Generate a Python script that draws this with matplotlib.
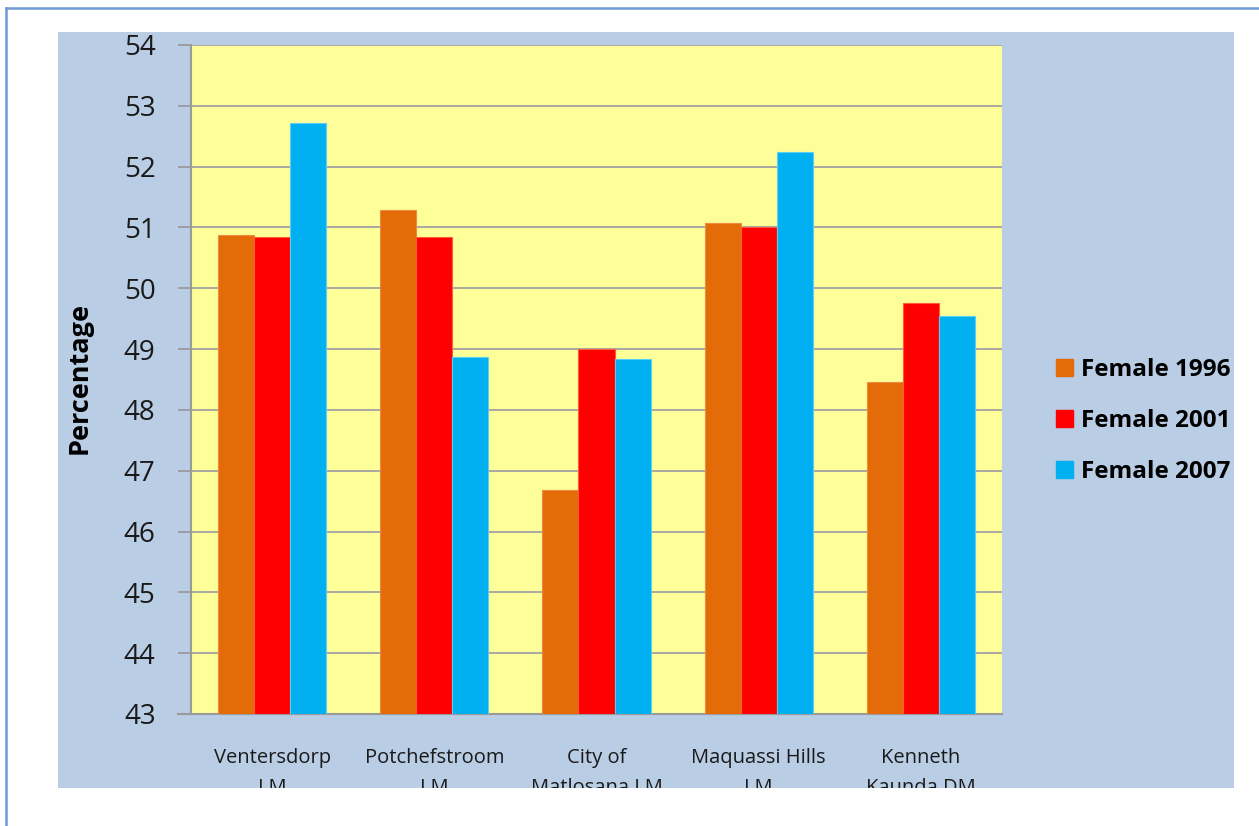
import matplotlib
matplotlib.use("Agg")
import matplotlib.pyplot as plt
from matplotlib.patches import Rectangle, Patch
from matplotlib.lines import Line2D
import numpy as np

# Share of the population that is female, by municipality and census year
categories = ["Ventersdorp\nLM", "Potchefstroom\nLM", "City of\nMatlosana LM",
              "Maquassi Hills\nLM", "Kenneth\nKaunda DM"]
series_names = ["Female 1996", "Female 2001", "Female 2007"]
female_1996 = [50.88, 51.29, 46.68, 51.07, 48.46]
female_2001 = [50.84, 50.84, 49.00, 51.01, 49.76]
female_2007 = [52.71, 48.87, 48.84, 52.24, 49.54]
y_ticks = list(range(43, 55))
y_label = "Percentage"

series = [female_1996, female_2001, female_2007]
fill_colors = ["#e36c09", "#ff0000", "#00b0f0"]
edge_colors = ["#f08a3c", "#ff5a3c", "#5ccff5"]

W, H = 1259, 826
fig = plt.figure(figsize=(W / 100, H / 100), dpi=100)
fig.patch.set_facecolor("white")

def fx(px):
    return px / W

def fy(py):
    return 1 - py / H

# light blue chart panel
panel = Rectangle((fx(58), fy(788)), fx(1234) - fx(58), fy(32) - fy(788),
                  transform=fig.transFigure, facecolor="#b9cde5",
                  edgecolor="none", zorder=-5)
fig.patches.append(panel)

# outer frame lines (top and left)
border_kw = dict(color="#6f9ad6", lw=1.8, transform=fig.transFigure, zorder=5)
fig.lines.append(Line2D([fx(6), 1.0], [fy(8), fy(8)], **border_kw))
fig.lines.append(Line2D([fx(6), fx(6)], [fy(8), 0.0], **border_kw))

ax_l, ax_r, ax_t, ax_b = 191, 1002, 45, 714
ax = fig.add_axes([fx(ax_l), fy(ax_b), fx(ax_r) - fx(ax_l), fy(ax_t) - fy(ax_b)])
ax.set_facecolor("#ffff99")

x = np.arange(len(categories))
bw = 0.222
for i, (vals, fc, ec, name) in enumerate(zip(series, fill_colors, edge_colors, series_names)):
    ax.bar(x + (i - 1) * bw, vals, width=bw, color=fc, edgecolor=ec,
           linewidth=0.8, label=name, zorder=3)

ax.set_ylim(43, 54)
ax.set_xlim(-0.5, len(categories) - 0.5)
ax.set_yticks(y_ticks)
ax.set_xticks(x)

tick_font = "Open Sans"
ax.set_yticklabels([str(t) for t in y_ticks], fontsize=20, family=tick_font,
                   color="#1a1a1a")
ax.set_xticklabels(categories, fontsize=14.5, family=tick_font, color="#1a1a1a",
                   linespacing=1.66)

ax.yaxis.grid(True, color="#a3a3a3", linewidth=1.3, zorder=1)
ax.set_axisbelow(True)
for side in ("top", "right"):
    ax.spines[side].set_visible(False)
for side in ("left", "bottom"):
    ax.spines[side].set_color("#9a9a9a")
    ax.spines[side].set_linewidth(1.5)

ax.tick_params(axis="y", length=9.5, width=1.3, color="#9a9a9a", pad=16)
ax.tick_params(axis="x", length=0, pad=24.5)

# extend the baseline slightly to the left like the tick marks
ax.plot([-0.5 - 13 / 162.2, -0.5], [43, 43], color="#9a9a9a", lw=1.5,
        clip_on=False, zorder=4)

# category labels are cut off at the lower edge of the panel
for lbl in ax.get_xticklabels():
    lbl.set_clip_path(panel)

ax.set_ylabel(y_label, fontsize=19.5, family=tick_font, fontweight="bold",
              color="black")
ax.yaxis.set_label_coords((93 - ax_l) / (ax_r - ax_l), (ax_b - 378) / (ax_b - ax_t))

handles = [Patch(facecolor=c, edgecolor=c) for c in fill_colors]
fig.legend(handles, series_names, loc="center left",
           bbox_to_anchor=(fx(1056), fy(421)), frameon=False,
           prop={"family": tick_font, "weight": "bold", "size": 17.5},
           handlelength=0.68, handleheight=0.68, handletextpad=0.35,
           labelspacing=1.1, borderpad=0, borderaxespad=0)

fig.savefig("out.png", dpi=100, facecolor="white")
